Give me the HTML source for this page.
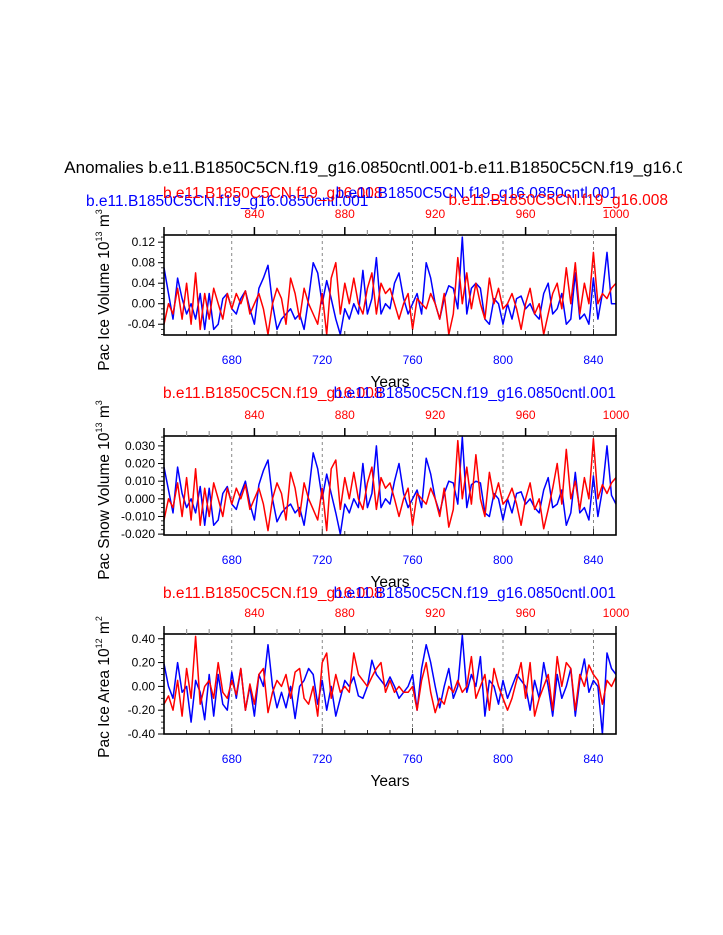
<!DOCTYPE html>
<html><head><meta charset="utf-8"><style>
html,body{margin:0;padding:0;background:#fff;}
svg{display:block;font-family:"Liberation Sans",Arial,sans-serif;}
</style></head><body>
<svg id="chart" width="723" height="935" viewBox="0 0 723 935" xmlns="http://www.w3.org/2000/svg">
<defs><clipPath id="tclip"><rect x="60" y="150" width="622" height="40"/></clipPath></defs>
<text clip-path="url(#tclip)" x="52" y="173" font-size="17" fill="#000">s Anomalies b.e11.B1850C5CN.f19_g16.0850cntl.001-b.e11.B1850C5CN.f19_g16.008</text>
<text x="86" y="206" font-size="15.5" fill="#0000ff">b.e11.B1850C5CN.f19_g16.0850cntl.001</text>
<text x="163" y="198" font-size="15.5" fill="#ff0000">b.e11.B1850C5CN.f19_g16.008</text>
<text x="618" y="198" font-size="15.5" fill="#0000ff" text-anchor="end">b.e11.B1850C5CN.f19_g16.0850cntl.001</text>
<text x="668" y="205" font-size="15.5" fill="#ff0000" text-anchor="end">b.e11.B1850C5CN.f19_g16.008</text>
<text x="163" y="398" font-size="15.5" fill="#ff0000">b.e11.B1850C5CN.f19_g16.008</text>
<text x="616" y="398" font-size="15.5" fill="#0000ff" text-anchor="end">b.e11.B1850C5CN.f19_g16.0850cntl.001</text>
<text x="163" y="598" font-size="15.5" fill="#ff0000">b.e11.B1850C5CN.f19_g16.008</text>
<text x="616" y="598" font-size="15.5" fill="#0000ff" text-anchor="end">b.e11.B1850C5CN.f19_g16.0850cntl.001</text>
</svg>
<script>
const bottomYears = [650, 850];
const topYears = [800, 1000];
const bottomTicks = [680, 720, 760, 800, 840];
const topTicks = [840, 880, 920, 960, 1000];
const iceVolTicks = ["0.12","0.08","0.04","0.00","-0.04"];
const snowTicks = ["0.030","0.020","0.010","0.000","-0.010","-0.020"];
const areaTicks = ["0.40","0.20","0.00","-0.20","-0.40"];
const iceVolBlue = [0.07,0.02,-0.03,0.05,0.01,-0.02,0.0,-0.03,0.02,-0.05,0.02,-0.05,-0.04,0.01,0.02,-0.01,-0.02,0.01,0.025,-0.01,-0.04,0.03,0.05,0.075,0.0,-0.05,-0.03,-0.02,-0.01,-0.03,-0.02,-0.05,0.01,0.08,0.06,0.0,0.045,0.01,-0.03,-0.06,-0.01,-0.03,0.0,-0.02,0.065,-0.02,0.01,0.09,-0.02,0.0,-0.01,0.04,0.06,0.01,-0.02,0.0,0.02,-0.02,0.08,0.05,0.0,-0.03,0.01,0.035,0.03,-0.01,0.13,-0.02,0.03,0.04,0.03,-0.03,-0.04,0.01,0.0,-0.04,0.0,-0.03,0.01,0.015,-0.01,0.0,-0.02,-0.03,0.02,0.04,-0.02,-0.01,0.02,-0.04,-0.03,0.06,-0.03,-0.02,-0.04,0.05,-0.03,0.02,0.1,0.0,0.0];
const iceVolRed = [-0.04,0.0,-0.02,0.03,-0.03,0.04,-0.04,0.06,-0.05,0.02,-0.03,0.03,0.0,-0.03,0.02,-0.01,0.02,0.0,0.025,-0.02,0.0,0.02,-0.01,-0.06,0.0,0.03,0.01,-0.04,0.05,0.02,-0.03,0.03,0.0,-0.02,-0.04,0.02,-0.06,0.05,0.08,-0.02,0.04,0.0,0.05,0.0,-0.02,0.03,0.06,-0.02,0.04,0.02,0.03,0.0,-0.03,0.0,0.02,-0.05,0.01,0.0,-0.01,0.02,0.0,-0.03,0.02,-0.06,-0.02,0.09,0.0,0.06,-0.01,0.04,0.0,-0.03,0.05,0.0,0.03,-0.01,0.0,0.02,-0.01,-0.05,0.0,0.03,-0.02,0.0,-0.06,-0.02,0.02,0.04,-0.01,0.07,0.0,0.08,-0.02,0.04,0.0,0.1,0.0,0.02,0.01,0.03,0.04];
const snowBlue = [0.018,0.005,-0.008,0.018,0.003,-0.005,0.0,-0.008,0.007,-0.015,0.006,-0.015,-0.012,0.003,0.007,-0.003,-0.006,0.003,0.01,-0.003,-0.012,0.008,0.016,0.022,0.0,-0.013,-0.008,-0.005,-0.003,-0.008,-0.005,-0.015,0.003,0.026,0.017,0.0,0.014,0.003,-0.008,-0.02,-0.003,-0.008,0.0,-0.005,0.02,-0.005,0.003,0.03,-0.005,0.0,-0.003,0.01,0.02,0.003,-0.005,0.0,0.005,-0.005,0.023,0.014,0.0,-0.008,0.003,0.01,0.009,-0.003,0.035,-0.005,0.008,0.01,0.009,-0.008,-0.01,0.003,0.0,-0.012,0.0,-0.008,0.003,0.004,-0.003,0.0,-0.005,-0.008,0.005,0.012,-0.005,-0.003,0.005,-0.015,-0.008,0.015,-0.008,-0.005,-0.012,0.013,-0.01,0.005,0.03,0.002,-0.003];
const snowRed = [-0.012,0.0,-0.005,0.009,-0.01,0.012,-0.012,0.017,-0.015,0.006,-0.01,0.009,0.0,-0.01,0.006,-0.003,0.006,0.0,0.008,-0.006,0.0,0.006,-0.003,-0.018,0.0,0.009,0.003,-0.012,0.015,0.006,-0.01,0.009,0.0,-0.006,-0.012,0.006,-0.018,0.017,0.022,-0.006,0.012,0.0,0.015,0.0,-0.006,0.009,0.018,-0.006,0.012,0.006,0.009,0.0,-0.01,0.0,0.006,-0.015,0.003,0.0,-0.003,0.006,0.0,-0.01,0.006,-0.016,-0.006,0.033,0.0,0.018,-0.003,0.025,0.0,-0.01,0.015,0.0,0.009,-0.003,0.0,0.006,-0.003,-0.015,0.0,0.009,-0.006,0.0,-0.017,-0.006,0.006,0.02,-0.003,0.028,0.0,0.01,-0.006,0.012,0.0,0.034,0.0,0.008,0.003,0.009,0.012];
const areaBlue = [0.19,0.0,-0.1,0.2,-0.05,0.0,-0.3,0.05,-0.05,-0.28,0.1,-0.25,0.1,-0.15,-0.2,0.12,-0.1,0.15,-0.2,0.0,-0.25,0.1,0.0,0.35,0.0,-0.18,-0.05,-0.18,0.0,-0.27,0.0,0.05,0.15,0.1,-0.15,0.05,-0.2,0.0,-0.25,-0.1,0.05,0.0,0.08,-0.08,-0.1,0.0,0.22,0.1,0.05,0.0,0.08,0.0,-0.1,-0.05,0.0,0.1,-0.2,0.15,0.35,0.2,0.0,-0.18,0.0,0.15,-0.1,0.0,0.43,-0.05,0.1,0.0,0.25,-0.25,0.05,0.0,-0.15,0.05,-0.1,0.0,0.1,0.05,0.0,-0.2,0.05,-0.1,0.2,0.0,-0.25,0.1,-0.1,0.0,0.15,-0.25,0.05,0.23,-0.05,0.05,0.0,-0.4,0.28,0.15,0.1];
const areaRed = [-0.15,-0.08,-0.2,0.05,-0.25,0.15,-0.1,0.42,-0.15,0.0,0.05,-0.1,0.2,-0.05,-0.1,0.05,-0.07,0.15,-0.2,0.02,-0.15,0.1,0.15,-0.22,-0.05,0.05,0.0,0.1,-0.1,0.12,0.15,-0.1,-0.15,0.0,-0.25,0.2,0.28,-0.1,0.1,-0.05,0.0,-0.05,0.28,0.1,0.05,0.0,0.08,0.15,0.2,-0.05,0.05,-0.05,0.0,-0.05,-0.05,0.0,-0.2,0.05,0.2,-0.05,-0.22,-0.1,-0.15,0.0,-0.05,0.05,-0.05,0.0,0.25,-0.1,0.0,0.1,-0.2,0.15,0.0,-0.1,-0.2,-0.1,0.05,0.2,-0.1,0.2,-0.25,-0.1,0.0,0.1,-0.2,0.25,0.0,0.2,0.15,-0.2,0.1,0.0,0.18,0.1,0.05,-0.15,0.05,0.0,0.08];

const NS = "http://www.w3.org/2000/svg";
const svg = document.getElementById("chart");
const L = 164, R = 616;
function mk(tag, attrs, parent){ const e=document.createElementNS(NS,tag); for(const k in attrs) e.setAttribute(k,attrs[k]); (parent||svg).appendChild(e); return e; }
function xb(y){ return L + (y-bottomYears[0])/(bottomYears[1]-bottomYears[0])*(R-L); }
function xt(y){ return L + (y-topYears[0])/(topYears[1]-topYears[0])*(R-L); }

const panels = [
 {key:"ice-volume", top:235, bot:335, ymin:-0.061, ymax:0.134, ticks:iceVolTicks, minor:0.01, blue:iceVolBlue, red:iceVolRed, title:"Pac Ice Volume 10", exp:"13", unit:" m", uexp:"3", tcy:290},
 {key:"snow-volume", top:436, bot:535, ymin:-0.0205, ymax:0.0356, ticks:snowTicks, minor:0.0025, blue:snowBlue, red:snowRed, title:"Pac Snow Volume 10", exp:"13", unit:" m", uexp:"3", tcy:490},
 {key:"ice-area", top:634, bot:734, ymin:-0.4, ymax:0.44, ticks:areaTicks, minor:0.05, blue:areaBlue, red:areaRed, title:"Pac Ice Area 10", exp:"12", unit:" m", uexp:"2", tcy:687}
];

panels.forEach((p,pi)=>{
  const g = mk("g",{});
  
  
  const ys = v => p.bot - (v-p.ymin)/(p.ymax-p.ymin)*(p.bot-p.top);
  bottomTicks.forEach(t=>{
    const l = mk("line",{x1:xb(t),x2:xb(t),y1:p.top,y2:p.bot,stroke:"#555","stroke-width":0.7,"stroke-dasharray":"3,3"},g);
    
    
  });
  [["blue","#0000ff",p.blue,xb,bottomYears[0]],["red","#ff0000",p.red,xt,topYears[0]]].forEach(s=>{
    const pts = s[2].map((v,i)=>s[3](s[4]+2*i).toFixed(1)+","+ys(v).toFixed(1)).join(" ");
    const pl = mk("polyline",{points:pts,fill:"none",stroke:s[1],"stroke-width":1.5,"stroke-linejoin":"round"},g);
    
    
  });
  const fr = mk("rect",{x:L,y:p.top,width:R-L,height:p.bot-p.top,fill:"none",stroke:"#000","stroke-width":1.6},g);
  
  
  p.ticks.forEach(t=>{
    const v = parseFloat(t), y = ys(v);
    mk("line",{x1:L-6,x2:L,y1:y,y2:y,stroke:"#000","stroke-width":1},g);
    const tx = mk("text",{x:L-9,y:y+4,"font-size":12,"text-anchor":"end",fill:"#000"},g);
    tx.textContent = t;
    
    
  });
  for(let v=Math.ceil(p.ymin/p.minor)*p.minor; v<=p.ymax; v+=p.minor){
    const y=ys(v); mk("line",{x1:L-3,x2:L,y1:y,y2:y,stroke:"#000","stroke-width":0.8},g);
  }
  for(let yr=800; yr<=1000; yr+=10){
    const maj = yr%40===0;
    mk("line",{x1:xt(yr),x2:xt(yr),y1:p.top,y2:p.top-(maj?8:5),stroke:maj?"#000":"#999","stroke-width":maj?1.5:1.2},g);
  }
  topTicks.forEach(t=>{
    const tx = mk("text",{x:xt(t),y:p.top-17,"font-size":12,"text-anchor":"middle",fill:"#ff0000"},g);
    tx.textContent = t;
    
    
  });
  for(let yr=650; yr<=850; yr+=10){
    const maj = yr%40===0;
    mk("line",{x1:xb(yr),x2:xb(yr),y1:p.bot,y2:p.bot-(maj?6:4),stroke:"#000","stroke-width":0.8},g);
  }
  bottomTicks.forEach(t=>{
    const tx = mk("text",{x:xb(t),y:p.bot+29,"font-size":12,"text-anchor":"middle",fill:"#0000ff"},g);
    tx.textContent = t;
    
    
  });
  const xl = mk("text",{x:390,y:p.bot+52,"font-size":15.5,"text-anchor":"middle",fill:"#000"},g);
  xl.textContent = "Years";
  
  
  const yt = mk("text",{x:0,y:0,"font-size":15.5,"text-anchor":"middle",fill:"#000",transform:"translate(109,"+p.tcy+") rotate(-90)"},g);
  
  
  const a=document.createElementNS(NS,"tspan"); a.textContent=p.title; yt.appendChild(a);
  const b=document.createElementNS(NS,"tspan"); b.setAttribute("font-size","9"); b.setAttribute("dy","-7"); b.textContent=p.exp; yt.appendChild(b);
  const c=document.createElementNS(NS,"tspan"); c.setAttribute("dy","7"); c.textContent=p.unit; yt.appendChild(c);
  const d=document.createElementNS(NS,"tspan"); d.setAttribute("font-size","9"); d.setAttribute("dy","-7"); d.textContent=p.uexp; yt.appendChild(d);
});
</script>
</body></html>
